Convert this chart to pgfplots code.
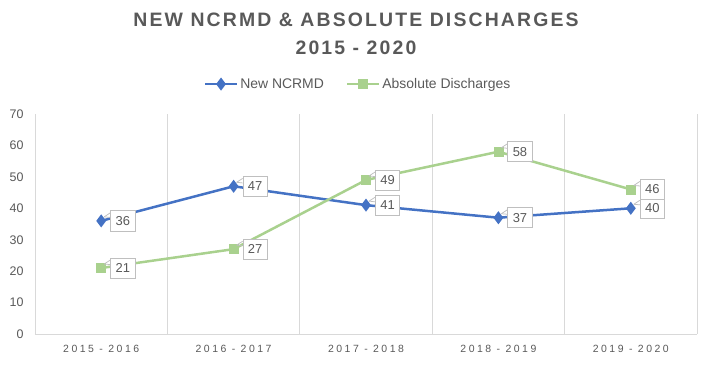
\documentclass[border=0pt]{standalone}
\usepackage{pgfplots}
\pgfplotsset{compat=1.18}
\usepackage{fontspec}
\setmainfont{Liberation Sans}
\newfontfamily\titlefont[LetterSpace=11]{Liberation Sans}
\newfontfamily\tickfont[LetterSpace=24]{Liberation Sans}
\definecolor{txt}{HTML}{595959}
\definecolor{grd}{HTML}{D9D9D9}
\definecolor{blu}{HTML}{4472C4}
\definecolor{grn}{HTML}{A9D18E}
\definecolor{bx}{HTML}{BFBFBF}
\begin{document}
\begin{tikzpicture}[x=1bp,y=1bp]
\useasboundingbox (-35,-30) rectangle (677,334);
\begin{axis}[
  scale only axis, width=662bp, height=220bp,
  at={(0,0)}, anchor=south west,
  xmin=-0.5, xmax=4.5, ymin=0, ymax=70,
  xtick={0,1,2,3,4},
  xticklabels={2015 - 2016,2016 - 2017,2017 - 2018,2018 - 2019,2019 - 2020},
  ytick={0,10,...,70},
  minor xtick={-0.5,0.5,1.5,2.5,3.5,4.5},
  xminorgrids, minor grid style={draw=grd, line width=0.75bp},
  extra y ticks={0}, extra y tick labels={},
  extra y tick style={grid=major, major grid style={draw=grd, line width=0.75bp}},
  axis line style={draw=none},
  major tick length=0pt, minor tick length=0pt,
  /pgf/number format/assume math mode=true,
  yticklabel style={font=\fontsize{12.5}{14}\selectfont, text=txt, xshift=-8bp},
  xticklabel style={font=\tickfont\fontsize{10.5}{12}\selectfont, text=txt, yshift=-8bp},
  clip=false,
  legend columns=2,
  legend style={at={(0.488,1.136)}, anchor=center, draw=none, fill=none,
    font=\fontsize{14}{16}\selectfont, text=txt,
    /tikz/every even column/.append style={column sep=20bp},
    inner sep=0pt},
  legend image code/.code={\draw[mark repeat=2,mark phase=2] plot coordinates {(0bp,0bp)(16bp,0bp)(32bp,0bp)};},
  nodes near coords,
  every node near coord/.append style={
    anchor=west, xshift=9bp, draw=bx, fill=white, text=txt,
    font=\fontsize{13}{14}\selectfont, inner xsep=5bp, inner ysep=5.5bp, line width=0.75bp,
    append after command={([yshift=-2.5bp]\tikzlastnode.north west) edge[draw=bx, line width=0.75bp] ([xshift=-6bp,yshift=4bp]\tikzlastnode.west)
      ([yshift=-7bp]\tikzlastnode.north west) edge[draw=bx, line width=0.75bp] ([xshift=-6bp,yshift=4bp]\tikzlastnode.west)}},
]
\addplot[color=blu, line width=2.5bp, mark=diamond*, mark size=4.5bp, mark options={fill=blu, draw=blu}]
  coordinates {(0,36) (1,47) (2,41) (3,37) (4,40)};
\addlegendentry{New NCRMD}
\addplot[color=grn, line width=2.5bp, mark=square*, mark size=4.5bp, mark options={fill=grn, draw=grn, line width=0.5bp}]
  coordinates {(0,21) (1,27) (2,49) (3,58) (4,46)};
\addlegendentry{Absolute Discharges}
\end{axis}
\node[align=center, text=txt, font=\titlefont\bfseries\fontsize{19.5}{28}\selectfont] at (321,300) {NEW NCRMD \& ABSOLUTE DISCHARGES\\2015 - 2020};
\end{tikzpicture}
\end{document}
